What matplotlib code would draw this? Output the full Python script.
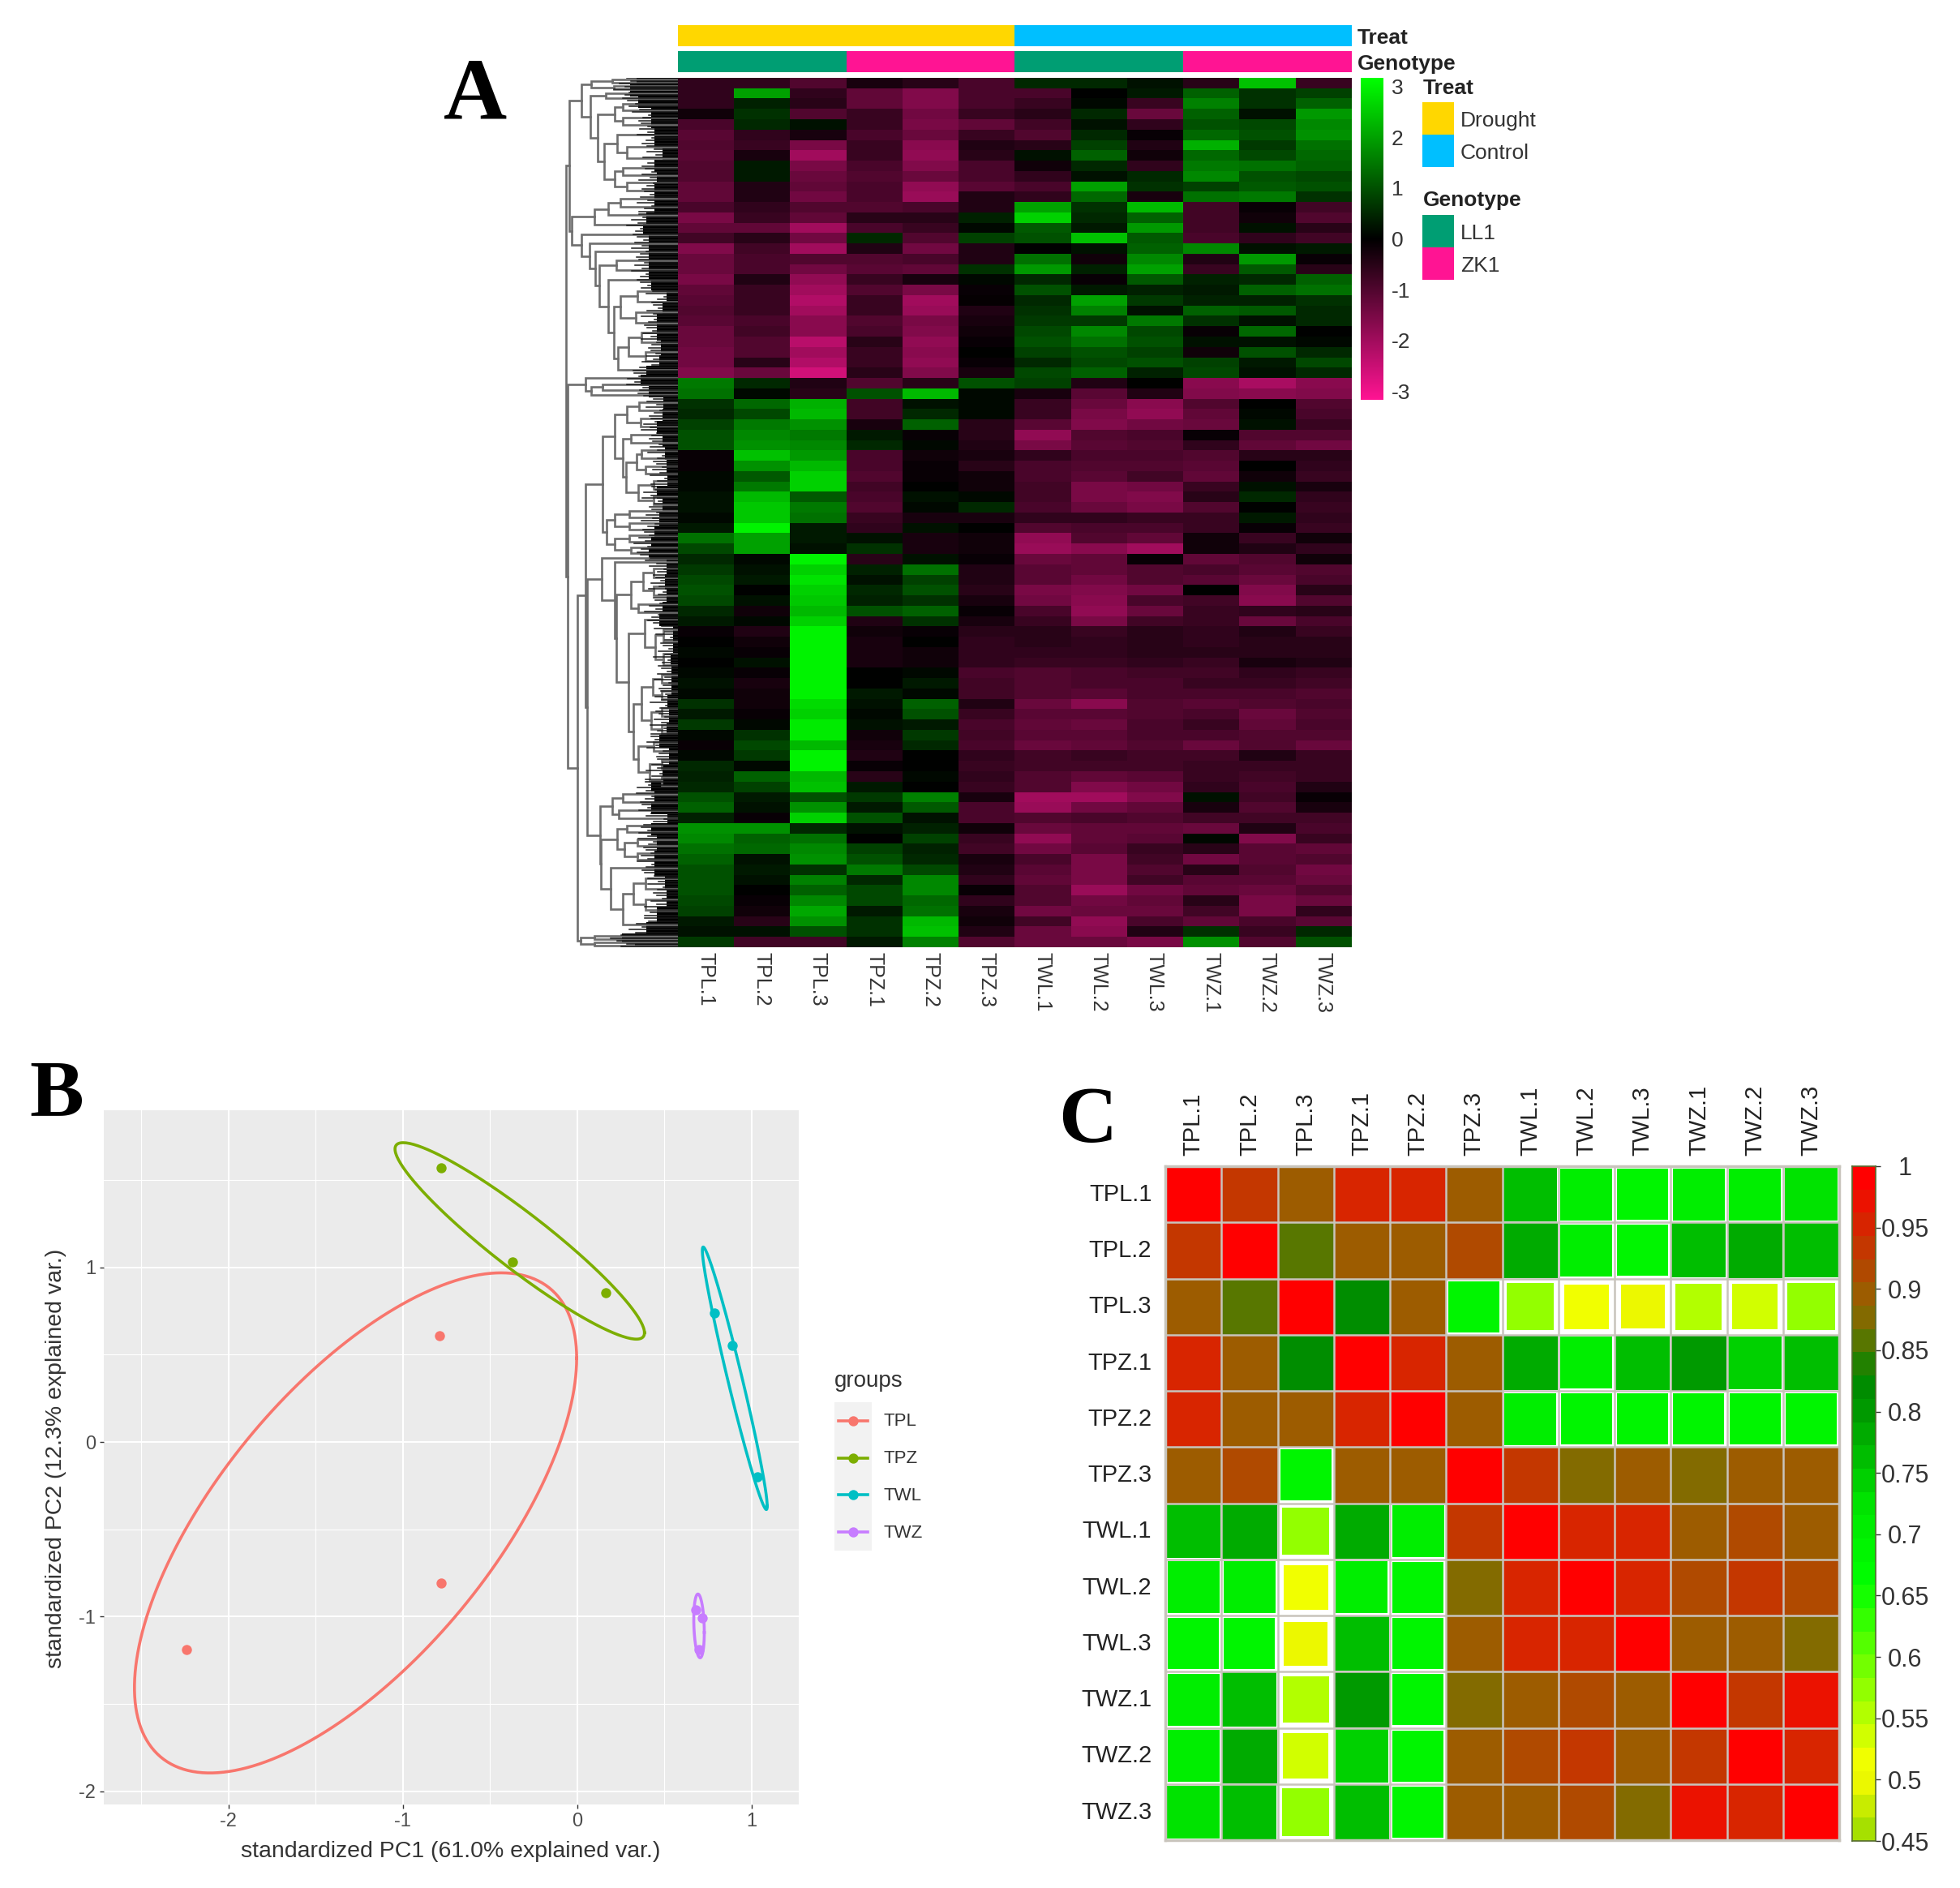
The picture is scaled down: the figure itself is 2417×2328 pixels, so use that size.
import numpy as np
import matplotlib
matplotlib.use('Agg')
import matplotlib.pyplot as plt
from matplotlib.colors import LinearSegmentedColormap, ListedColormap
from matplotlib.patches import Rectangle

plt.rcParams['font.family'] = ['Liberation Sans', 'DejaVu Sans']
plt.rcParams['axes.unicode_minus'] = False

W, H = 2417, 2328
fig = plt.figure(figsize=(W / 100, H / 100), dpi=100, facecolor='white')


def add_ax(l, t, r, b):
    return fig.add_axes([l / W, 1 - b / H, (r - l) / W, (b - t) / H])


def put(x, y, s, **kw):
    fig.text(x / W, 1 - y / H, s, **kw)


# Panel A data
samples = ['TPL.1', 'TPL.2', 'TPL.3', 'TPZ.1', 'TPZ.2', 'TPZ.3',
           'TWL.1', 'TWL.2', 'TWL.3', 'TWZ.1', 'TWZ.2', 'TWZ.3']
treat = [0, 0, 0, 0, 0, 0, 1, 1, 1, 1, 1, 1]
genotype = [0, 0, 0, 1, 1, 1, 0, 0, 0, 1, 1, 1]

heat_upper = [
    [-0.6, -0.6, -1.0, -0.3, -0.5, -0.9, 0.5, 0.5, 0.2, -0.5, 2.4, -0.7],
    [-0.6, 2.0, -0.6, -1.2, -1.6, -0.9, -0.9, 0.0, 0.3, 1.2, 0.6, 0.8],
    [-0.6, 0.4, -0.5, -1.2, -1.6, -0.9, -0.7, 0.1, -0.7, 1.6, 0.6, 1.2],
    [-0.2, 0.6, -1.0, -0.7, -1.4, -0.7, -0.5, 0.5, -1.3, 1.2, 0.2, 1.9],
    [-0.9, 0.5, 0.2, -0.7, -1.5, -1.2, -0.8, 0.2, -0.6, 1.0, 0.9, 1.7],
    [-1.1, -0.6, -0.3, -0.9, -1.3, -0.7, -1.0, 0.5, -0.1, 1.3, 1.0, 1.8],
    [-1.0, -0.7, -1.5, -0.7, -1.7, -0.4, -0.5, 0.8, -0.4, 2.2, 0.7, 1.4],
    [-1.1, -0.3, -2.0, -0.7, -1.8, -0.5, 0.2, 1.2, -0.2, 1.3, 0.9, 1.3],
    [-1.0, 0.3, -1.5, -0.9, -1.6, -0.9, -0.2, 0.5, -0.6, 1.5, 1.4, 1.2],
    [-1.0, 0.3, -1.3, -1.0, -1.3, -0.9, -0.6, 0.2, 0.5, 1.7, 1.0, 0.9],
    [-1.2, -0.4, -1.2, -0.9, -1.8, -1.1, -0.9, 2.0, 0.6, 0.8, 1.1, 1.0],
    [-1.2, -0.4, -1.4, -0.9, -1.9, -0.4, -0.6, 1.3, -0.3, 1.4, 1.5, 0.6],
    [-0.9, -0.6, -1.0, -1.0, -0.9, -0.4, 2.0, 0.6, 2.3, -0.8, -0.1, -0.8],
    [-1.5, -0.7, -1.2, -0.5, -0.5, 0.4, 2.6, 0.5, 1.2, -0.8, -0.2, -1.0],
    [-1.2, -1.2, -2.0, -0.9, -0.7, 0.1, 1.1, 0.3, 1.9, -0.8, 0.2, -0.5],
    [-0.8, -0.5, -1.4, 0.5, -1.0, 0.8, 1.0, 2.4, 1.1, -0.9, -0.6, -0.8],
    [-1.6, -0.8, -2.0, -0.4, -1.4, -0.4, 0.0, 0.2, 1.2, 1.7, 0.2, 0.3],
    [-1.3, -0.9, -1.0, -1.0, -0.9, -0.4, 1.4, -0.2, 1.7, -0.4, 1.9, -0.1],
    [-1.3, -0.9, -1.4, -1.1, -1.2, 0.6, 1.9, 0.4, 2.0, -0.7, 1.1, -0.5],
    [-1.5, -0.4, -1.8, -0.7, -0.3, 0.1, 0.5, -0.1, 1.1, 0.4, 0.5, 1.2],
    [-1.2, -0.7, -2.0, -1.0, -1.5, -0.1, 1.0, 0.3, 0.4, 0.3, 1.2, 1.4],
    [-1.1, -0.7, -2.2, -0.7, -2.0, -0.05, 0.5, 2.0, 0.7, 0.4, 0.4, 0.6],
    [-1.0, -0.7, -2.0, -0.7, -1.9, -0.4, 0.6, 1.6, 0.2, 1.2, 1.1, 0.5],
    [-1.1, -0.9, -1.7, -1.0, -1.5, -0.3, 0.7, 0.7, 1.5, 0.6, 0.2, 0.5],
    [-1.3, -0.8, -1.7, -0.9, -1.6, -0.2, 0.9, 1.7, 0.9, -0.1, 1.3, 0.0],
    [-1.3, -1.0, -2.3, -0.5, -1.8, -0.1, 1.0, 1.4, 1.0, 0.2, 0.2, 0.1],
    [-1.4, -1.0, -2.0, -0.7, -1.7, 0.0, 0.8, 1.0, 0.8, -0.2, 1.0, 0.5],
    [-1.4, -0.5, -2.2, -0.7, -1.8, -0.1, 0.5, 0.9, 1.0, 0.8, 0.3, 0.9],
    [-1.6, -1.3, -2.6, -0.5, -1.6, -0.3, 0.9, 1.2, 0.4, 0.9, 0.2, 0.5],
]
heat_middle = [
    [1.5, 0.5, -0.4, -1.0, -0.5, 1.0, 0.8, -0.4, 0.0, -1.7, -2.1, -1.7],
    [1.4, 0.1, -0.5, 1.0, 2.3, 0.1, -0.3, -1.1, -0.4, -1.6, -1.7, -1.6],
    [0.6, 1.3, 2.2, -0.8, 0.2, 0.1, -0.7, -1.3, -1.7, -1.0, 0.0, -1.0],
    [0.5, 0.9, 2.3, -0.8, 0.5, 0.1, -0.7, -1.5, -1.8, -1.2, 0.1, -0.9],
    [0.8, 1.5, 1.8, -0.3, 1.2, -0.5, -1.1, -1.6, -1.4, -1.3, 0.2, -0.7],
    [1.0, 1.7, 1.5, 0.3, -0.1, -0.5, -1.8, -1.0, -0.9, -0.1, -1.0, -1.0],
    [1.0, 1.8, 1.7, 0.5, 0.1, -0.4, -1.5, -1.1, -1.0, -0.6, -1.2, -1.4],
    [-0.1, 2.4, 1.9, -0.9, -0.2, -0.3, -0.6, -0.9, -0.9, -1.0, -0.5, -0.5],
    [-0.1, 1.8, 2.3, -0.9, -0.1, -0.5, -0.9, -1.0, -1.0, -1.1, 0.0, -0.6],
    [0.1, 1.1, 2.6, -1.0, -0.1, -0.2, -0.9, -1.1, -0.8, -1.2, -0.2, -0.7],
    [0.1, 1.5, 2.6, -0.8, 0.0, -0.2, -0.8, -1.5, -1.4, -0.7, 0.2, -0.3],
    [0.2, 2.3, 1.1, -0.9, 0.2, 0.1, -0.8, -1.5, -1.6, -0.5, 0.5, -0.6],
    [0.2, 2.5, 1.5, -1.0, 0.1, 0.5, -0.9, -1.3, -1.5, -1.0, 0.0, -0.7],
    [0.1, 2.5, 1.4, -0.7, -0.3, -0.3, -0.6, -0.6, -0.7, -0.7, 0.3, -0.6],
    [0.3, 3.0, 0.3, -0.6, 0.2, 0.0, -1.0, -0.9, -0.9, -0.7, -0.1, -0.7],
    [1.4, 2.0, 0.3, 0.2, -0.3, -0.2, -1.8, -1.0, -1.2, -0.2, -0.7, -0.2],
    [0.9, 2.0, 0.2, 0.6, -0.3, -0.2, -1.9, -1.7, -2.0, -0.2, -0.4, -0.6],
    [0.5, 0.1, 3.0, -0.5, 0.2, -0.1, -1.3, -1.2, -0.1, -1.2, -1.0, -0.2],
    [0.7, 0.2, 2.6, 0.4, 1.4, -0.4, -1.1, -1.2, -1.0, -0.9, -1.1, -1.0],
    [0.9, 0.3, 2.8, 0.2, 0.8, -0.4, -1.1, -1.4, -1.0, -1.1, -1.3, -0.9],
    [1.0, 0.0, 2.6, 0.5, 1.0, -0.5, -1.5, -1.6, -1.4, 0.0, -1.6, -0.5],
    [0.9, 0.2, 2.5, 0.4, 0.6, -0.3, -1.4, -1.7, -0.9, -0.8, -1.7, -1.0],
    [0.5, -0.2, 2.3, 1.0, 1.2, -0.1, -0.9, -1.8, -1.3, -0.7, -0.6, -0.5],
    [0.3, 0.1, 2.6, -0.4, 0.6, -0.3, -0.7, -1.5, -0.8, -0.7, -1.3, -0.9],
]
heat_lower = [
    [-0.1, -0.4, 3.0, -0.2, -0.1, -0.5, -0.5, -0.7, -0.5, -0.6, -0.4, -0.7],
    [0.0, -0.2, 3.0, -0.3, 0.0, -0.6, -0.5, -0.6, -0.5, -0.6, -0.5, -0.5],
    [0.1, -0.1, 3.0, -0.3, -0.2, -0.6, -0.6, -0.6, -0.5, -0.5, -0.5, -0.5],
    [0.0, 0.2, 3.0, -0.3, -0.2, -0.6, -0.7, -0.7, -0.6, -0.7, -0.3, -0.4],
    [0.1, -0.1, 3.0, 0.0, 0.1, -0.9, -1.0, -0.9, -0.8, -0.8, -0.6, -0.7],
    [0.2, -0.3, 3.0, 0.0, 0.3, -0.8, -1.0, -0.9, -0.9, -0.7, -0.7, -0.8],
    [0.1, -0.2, 3.0, 0.3, 0.1, -0.8, -1.0, -1.1, -0.9, -0.9, -0.9, -1.0],
    [0.6, -0.2, 2.7, 0.2, 1.2, -0.4, -1.3, -1.7, -1.0, -1.1, -1.0, -0.9],
    [0.3, -0.1, 2.6, 0.1, 1.0, -0.7, -1.1, -1.1, -1.0, -0.9, -1.3, -1.0],
    [0.7, 0.1, 2.9, 0.2, 0.3, -0.9, -1.2, -1.3, -0.9, -0.7, -1.2, -0.9],
    [0.1, 0.6, 2.9, -0.2, 0.7, -0.8, -1.1, -1.1, -0.9, -0.9, -1.0, -1.0],
    [-0.1, 0.9, 2.3, -0.3, 0.5, -0.9, -1.3, -1.2, -1.0, -1.3, -1.0, -1.3],
    [0.1, 0.7, 3.0, -0.4, 0.0, -0.6, -0.8, -0.7, -0.8, -0.8, -0.4, -0.7],
    [0.5, 0.1, 3.0, -0.1, 0.0, -0.7, -0.8, -0.8, -0.8, -0.7, -0.7, -0.7],
    [0.4, 1.2, 2.3, -0.5, 0.1, -0.6, -1.0, -1.2, -1.1, -0.7, -0.8, -0.7],
    [0.5, 0.8, 2.4, 0.3, 0.0, -0.7, -1.0, -1.6, -1.4, -0.6, -0.9, -0.4],
    [1.0, 0.3, 1.0, 0.7, 1.6, -0.3, -2.0, -2.0, -1.6, 0.2, -0.8, -0.1],
    [1.2, 0.2, 1.8, 0.3, 1.1, -0.9, -1.9, -1.4, -1.2, -0.3, -1.0, -0.3],
    [0.4, -0.1, 2.6, 1.0, 0.2, -0.9, -1.0, -0.9, -1.0, -0.8, -0.8, -0.8],
    [1.8, 1.8, 0.5, 0.2, 0.4, -0.2, -1.3, -1.2, -1.2, -1.3, -0.4, -0.9],
    [1.7, 1.2, 1.4, 0.0, 0.8, -0.7, -1.8, -1.2, -1.1, 0.1, -1.6, -0.7],
    [1.4, 1.3, 1.7, 0.8, 0.4, -0.8, -1.4, -1.1, -0.7, -0.5, -1.1, -1.2],
    [1.2, 0.2, 1.8, 1.0, 0.5, -0.3, -0.9, -1.5, -0.8, -1.4, -1.1, -1.0],
    [1.0, 0.3, 0.6, 1.5, 0.9, -0.4, -1.1, -1.5, -1.0, -0.5, -1.0, -1.4],
    [1.0, 0.2, 1.6, 0.5, 1.7, -0.6, -1.2, -1.5, -0.8, -1.1, -1.1, -1.3],
    [1.0, 0.0, 1.2, 0.9, 1.7, -0.1, -1.0, -1.9, -1.4, -1.2, -1.3, -1.0],
    [0.9, -0.1, 1.7, 0.9, 1.3, -0.6, -1.0, -1.4, -1.2, -0.5, -1.5, -1.3],
    [0.8, -0.2, 2.1, 0.3, 1.4, -0.3, -1.4, -1.3, -1.3, -0.8, -1.5, -0.6],
    [0.3, -0.5, 1.8, 0.6, 2.3, -0.2, -0.8, -1.8, -0.9, -1.2, -0.9, -1.1],
    [0.2, 0.2, 1.0, 0.6, 2.4, -0.4, -1.3, -1.7, -0.4, 0.6, -0.7, 0.5],
    [0.7, -0.8, -0.8, 0.3, 1.6, -1.0, -1.3, -1.3, -1.5, 1.8, -1.0, 1.0],
]

# dendrogram: (height, upper child, lower child), a plain int is a bundle of rows
den_top = (134,
           (119,
            (107, (81, 4, 4), (79, 4, 3)),
            (108,
             (89, 7, 6),
             (99,
              (78, (68, 8, 8), (68, 9, 9)),
              (91,
               (75, 16, (63, 14, 14)),
               (78, (68, 9, 9), (63, 10, 10)))))),
           (131,
            (103, (86, (71, 10, 10), 10), 13),
            (119,
             12,
             (109,
              10,
              (102,
               10,
               (97,
                (76, 12, 11),
                (86,
                 14,
                 (79,
                  (71, (50, 13, 13), (52, 14, 12)),
                  (74, (61, (45, 12, 12), (40, 11, 11)), 12)))))))))
den_small = (114, 8, (107, (93, 7, 7), 6))
den_p1 = (93,
          (78,
           (63, (48, 11, 10), (46, 10, 10)),
           (68,
            (58, 10, 9),
            (64, (51, (45, 10, 10), (40, 9, 9)), (49, (30, 10, 9), (30, 10, 9))))),
          (88,
           (78, (60, 8, 7), (60, 8, 7)),
           (78, (60, 8, 7), (58, 7, 7))))
den_q1 = (94,
          5,
          (78,
           5,
           (76,
            (58, (43, (30, 11, 11), (30, 11, 11)), (49, 11, 10)),
            (61,
             (41, 8, (28, (18, 15, 15), (18, 15, 14))),
             (55,
              (45, (31, (20, 10, 10), (20, 10, 10)), (33, (20, 11, 10), (20, 11, 10))),
              (49, (30, 11, 11), (35, (20, 11, 10), (20, 11, 11))))))))
den_q2 = (96,
          (81, (68, 10, 10), (73, 10, 10)),
          (95,
           (75, (63, 8, 8), (66, (50, 9, 8), (50, 9, 8))),
           (83, 12, (68, (55, (40, 13, 13), (40, 13, 13)), 24))))
den_bottom = (120, (103, 4, 4), (103, 4, 4))
den_tree = (138, den_top, (136, den_small, (124, (114, den_p1, (112, den_q1, den_q2)), den_bottom)))

# extent of the solid leaf mass next to the heatmap
leaf_y = [0, 15, 30, 44, 58, 65, 80, 94, 108, 123, 137, 148, 158, 173, 187, 201, 215, 230,
          244, 255, 269, 283, 298, 315, 333, 351, 358, 373, 387, 401, 415, 430, 448, 462,
          480, 494, 512, 526, 544, 559, 573, 587, 601, 622, 639, 653, 667, 685, 702, 716,
          734, 752, 769, 787, 804, 815, 836, 857, 874, 885, 902, 913, 924, 944, 962, 980,
          990, 1011, 1032, 1050, 1060, 1071]
leaf_h = [51, 59, 49, 33, 33, 29, 29, 19, 29, 26, 29, 29, 29, 39, 43, 36, 36, 36,
          36, 33, 14, 19, 26, 26, 21, 23, 39, 46, 36, 18, 19, 26, 19, 16,
          14, 13, 26, 19, 23, 29, 33, 36, 14, 16, 14, 19, 23, 6, 6, 9,
          8, 8, 13, 11, 14, 23, 11, 19, 33, 29, 33, 13, 33, 26, 29, 29,
          16, 14, 26, 39, 69, 53]
leaf_fringe = [12, 5, 17, 8, 21, 3, 10, 15]

# Panel B data
pc_groups = ['TPL', 'TPZ', 'TWL', 'TWZ']
pc_colors = ['#F8766D', '#7CAE00', '#00BFC4', '#C77CFF']
pc1 = [[-0.79, -0.78, -2.24], [-0.78, -0.37, 0.165], [0.79, 0.89, 1.035], [0.68, 0.72, 0.70]]
pc2 = [[0.61, -0.81, -1.19], [1.57, 1.03, 0.855], [0.74, 0.555, -0.20], [-0.96, -1.01, -1.19]]

# Panel C data
cor_values = [
    [1.00, 0.93, 0.89, 0.96, 0.96, 0.89, 0.76, 0.70, 0.68, 0.71, 0.70, 0.72],
    [0.93, 1.00, 0.85, 0.89, 0.89, 0.92, 0.79, 0.70, 0.68, 0.77, 0.78, 0.77],
    [0.89, 0.85, 1.00, 0.82, 0.89, 0.68, 0.58, 0.51, 0.49, 0.55, 0.54, 0.58],
    [0.96, 0.89, 0.82, 1.00, 0.96, 0.89, 0.78, 0.70, 0.76, 0.81, 0.74, 0.77],
    [0.96, 0.89, 0.89, 0.96, 1.00, 0.89, 0.70, 0.68, 0.69, 0.68, 0.68, 0.68],
    [0.89, 0.92, 0.68, 0.89, 0.89, 1.00, 0.93, 0.87, 0.89, 0.87, 0.89, 0.89],
    [0.76, 0.79, 0.58, 0.78, 0.70, 0.93, 1.00, 0.96, 0.96, 0.89, 0.91, 0.89],
    [0.70, 0.70, 0.51, 0.70, 0.68, 0.87, 0.96, 1.00, 0.96, 0.91, 0.93, 0.92],
    [0.68, 0.68, 0.49, 0.76, 0.69, 0.89, 0.96, 0.96, 1.00, 0.89, 0.89, 0.87],
    [0.71, 0.77, 0.55, 0.81, 0.68, 0.87, 0.89, 0.91, 0.89, 1.00, 0.93, 0.98],
    [0.70, 0.78, 0.54, 0.74, 0.68, 0.89, 0.91, 0.93, 0.89, 0.93, 1.00, 0.96],
    [0.72, 0.77, 0.58, 0.77, 0.68, 0.89, 0.89, 0.92, 0.87, 0.98, 0.96, 1.00],
]
cor_ticks = [1, 0.95, 0.9, 0.85, 0.8, 0.75, 0.7, 0.65, 0.6, 0.55, 0.5, 0.45]

# ---- Panel A ----
heat_cmap = LinearSegmentedColormap.from_list('heat', ['#FF1493', '#000000', '#00FF00'])
heat = np.array(heat_upper + heat_middle + heat_lower)
ax = add_ax(836, 96, 1666, 1168)
ax.imshow(heat, cmap=heat_cmap, vmin=-3.17, vmax=3.17, aspect='auto', interpolation='nearest')
ax.set_yticks([])
ax.set_xticks(range(12))
ax.set_xticklabels(samples, rotation=-90, fontsize=18, color='#333333')
ax.tick_params(axis='x', length=0, pad=4)
for s in ax.spines.values():
    s.set_visible(False)

ann_cmap1 = ListedColormap(['#FFD700', '#00BFFF'])
ann_cmap2 = ListedColormap(['#009E73', '#FF1493'])
for vals, cm, top, bot, name, ly in [(treat, ann_cmap1, 31, 57, 'Treat', 47),
                                     (genotype, ann_cmap2, 63, 89, 'Genotype', 79)]:
    a = add_ax(836, top, 1666, bot)
    a.imshow([vals], cmap=cm, aspect='auto', vmin=0, vmax=1, interpolation='nearest')
    a.axis('off')
    put(1674, ly, name, fontsize=19, fontweight='bold', va='center', color='#222222')

cb = add_ax(1678, 96, 1706, 493)
cb.imshow(np.linspace(3.17, -3.17, 256)[:, None], cmap=heat_cmap, vmin=-3.17, vmax=3.17,
          aspect='auto', extent=[0, 1, -3.17, 3.17])
cb.set_xticks([])
cb.yaxis.tick_right()
cb.set_yticks([3, 2, 1, 0, -1, -2, -3])
cb.tick_params(axis='y', length=0, labelsize=19, pad=7, labelcolor='#333333')
for s in cb.spines.values():
    s.set_visible(False)

put(1755, 109, 'Treat', fontsize=19, fontweight='bold', va='center', color='#222222')
put(1755, 247, 'Genotype', fontsize=19, fontweight='bold', va='center', color='#222222')
for name, color, top in [('Drought', '#FFD700', 126), ('Control', '#00BFFF', 166),
                         ('LL1', '#009E73', 265), ('ZK1', '#FF1493', 305)]:
    a = add_ax(1754, top, 1793, top + 40)
    a.set_facecolor(color)
    a.set_xticks([])
    a.set_yticks([])
    for s in a.spines.values():
        s.set_visible(False)
    put(1801, top + 23, name, fontsize=19, va='center', color='#333333')

# dendrogram, row positions come from the bundle sizes
den = add_ax(690, 96, 836, 1168)
den.set_xlim(146, 0)
segments = []


def layout(node, start):
    if isinstance(node, int):
        return start + node / 2, start + node, 0
    h, upper, lower = node
    y1, end, h1 = layout(upper, start)
    y2, end, h2 = layout(lower, end)
    segments.append(([h1, h, h, h2], [y1, y1, y2, y2]))
    return (y1 + y2) / 2, end, h


_, n_total, _ = layout(den_tree, 0)
for xs, ys in segments:
    den.plot(xs, ys, color='#6E6E6E', lw=1.9, solid_joinstyle='miter')
den.fill_betweenx(leaf_y, 0, leaf_h, step='mid', color='black', lw=0)
# jagged leaf tips along the edge of the solid mass
for i, y in enumerate(np.arange(0, n_total, 3.5)):
    tip = np.interp(y, leaf_y, leaf_h) + leaf_fringe[i % len(leaf_fringe)]
    den.plot([0, tip], [y, y], color='#1A1A1A', lw=1.1)
den.set_ylim(n_total, 0)
den.axis('off')

# ---- Panel B ----
ax = add_ax(128, 1369, 985, 2225)
ax.set_facecolor('#EBEBEB')
ax.set_xlim(-2.714, 1.272)
ax.set_ylim(-2.076, 1.9)
ax.set_xticks([-2, -1, 0, 1])
ax.set_yticks([1, 0, -1, -2])
ax.set_xticks([-2.5, -1.5, -0.5, 0.5], minor=True)
ax.set_yticks([1.5, 0.5, -0.5, -1.5], minor=True)
ax.grid(which='major', color='white', lw=1.5)
ax.grid(which='minor', color='white', lw=0.8)
ax.set_axisbelow(True)
ax.tick_params(which='minor', length=0)
ax.tick_params(which='major', length=3.5, width=1, color='#333333', labelcolor='#4D4D4D', labelsize=17)
for s in ax.spines.values():
    s.set_visible(False)
theta = np.linspace(0, 2 * np.pi, 200)
circle = np.column_stack([np.cos(theta), np.sin(theta)])
scale = np.sqrt(-2 * np.log(1 - 0.68))
for xs, ys, color in zip(pc1, pc2, pc_colors):
    ax.scatter(xs, ys, s=80, color=color, zorder=3, lw=0)
    pts = np.column_stack([xs, ys])
    ell = scale * circle @ np.linalg.cholesky(np.cov(pts.T)).T + pts.mean(axis=0)
    ax.plot(ell[:, 0], ell[:, 1], color=color, lw=2.6, zorder=3)
put(556, 2283, 'standardized PC1 (61.0% explained var.)', fontsize=20.5, ha='center', va='center', color='#333333')
put(69, 1798, 'standardized PC2 (12.3% explained var.)', fontsize=20.5, ha='center', va='center',
    rotation=90, color='#333333')
put(1029, 1703, 'groups', fontsize=20, va='center', color='#333333')
key = add_ax(1029, 1729, 1075, 1912)
key.set_facecolor('#F2F2F2')
key.set_xlim(0, 1)
key.set_ylim(len(pc_groups) - 0.5, -0.5)
key.set_xticks([])
key.set_yticks([])
for s in key.spines.values():
    s.set_visible(False)
for i, (name, color) in enumerate(zip(pc_groups, pc_colors)):
    key.plot([0.1, 0.9], [i, i], color=color, lw=2.6)
    key.scatter([0.5], [i], s=80, color=color, lw=0, zorder=3)
    put(1089, 1753 + i * 45.7, name, fontsize=16, va='center', color='#333333')

# ---- Panel C ----
cor_cmap = LinearSegmentedColormap.from_list(
    'cor',
    [(0.0, '#A6E000'), (0.05 / 0.55, '#FFFF00'), (0.21 / 0.55, '#00FF00'), (0.27 / 0.55, '#00E800'),
     (0.35 / 0.55, '#009C00'), (0.38 / 0.55, '#008800'),
     (0.425 / 0.55, '#7A7000'), (0.45 / 0.55, '#9B5E00'), (1.0, '#FF0000')], N=29)
cor = np.array(cor_values)
ax = add_ax(1437, 1438, 2268, 2269)
ax.set_xlim(0, 12)
ax.set_ylim(12, 0)
ax.set_facecolor('white')
for i in range(12):
    for j in range(12):
        v = cor[i, j]
        inset = max(0, 0.82 - v) * 0.33
        ax.add_patch(Rectangle((j + inset, i + inset), 1 - 2 * inset, 1 - 2 * inset,
                               facecolor=cor_cmap((v - 0.45) / 0.55), edgecolor='none', zorder=2))
ax.set_xticks(np.arange(13), minor=True)
ax.set_yticks(np.arange(13), minor=True)
ax.grid(which='minor', color='#C8C4BC', lw=1.8, zorder=3)
ax.set_axisbelow(False)
ax.tick_params(which='both', length=0)
ax.xaxis.tick_top()
ax.set_xticks(np.arange(12) + 0.5)
ax.set_yticks(np.arange(12) + 0.46)
ax.set_xticklabels(samples, rotation=90, fontsize=21, color='#222222')
ax.set_yticklabels(samples, fontsize=21, color='#222222')
ax.tick_params(axis='x', pad=9)
ax.tick_params(axis='y', pad=12)
for s in ax.spines.values():
    s.set_color('#C8C4BC')
    s.set_linewidth(2.5)

cb = add_ax(2284, 1438, 2313, 2270)
cb.imshow(np.linspace(1, 0.45, 29)[:, None], cmap=cor_cmap, vmin=0.45, vmax=1, aspect='auto',
          extent=[0, 1, 0.45, 1], interpolation='nearest')
cb.set_xticks([])
cb.yaxis.tick_right()
cb.set_yticks(cor_ticks)
cb.set_yticklabels([str(t) for t in cor_ticks], ha='center')
cb.tick_params(axis='y', length=4, width=1, color='#333333', labelsize=22, pad=22, labelcolor='#333333')
for s in cb.spines.values():
    s.set_color('#556B2F')
    s.set_linewidth(1.2)

# panel letters
for letter, x, y, size in [('A', 586, 147, 78), ('B', 70, 1375, 72), ('C', 1341, 1408, 72)]:
    fig.text(x / W, 1 - y / H, letter, family='Liberation Serif', fontweight='bold',
             fontsize=size, ha='center', va='baseline', color='black')

fig.savefig('out.png', dpi=100)
